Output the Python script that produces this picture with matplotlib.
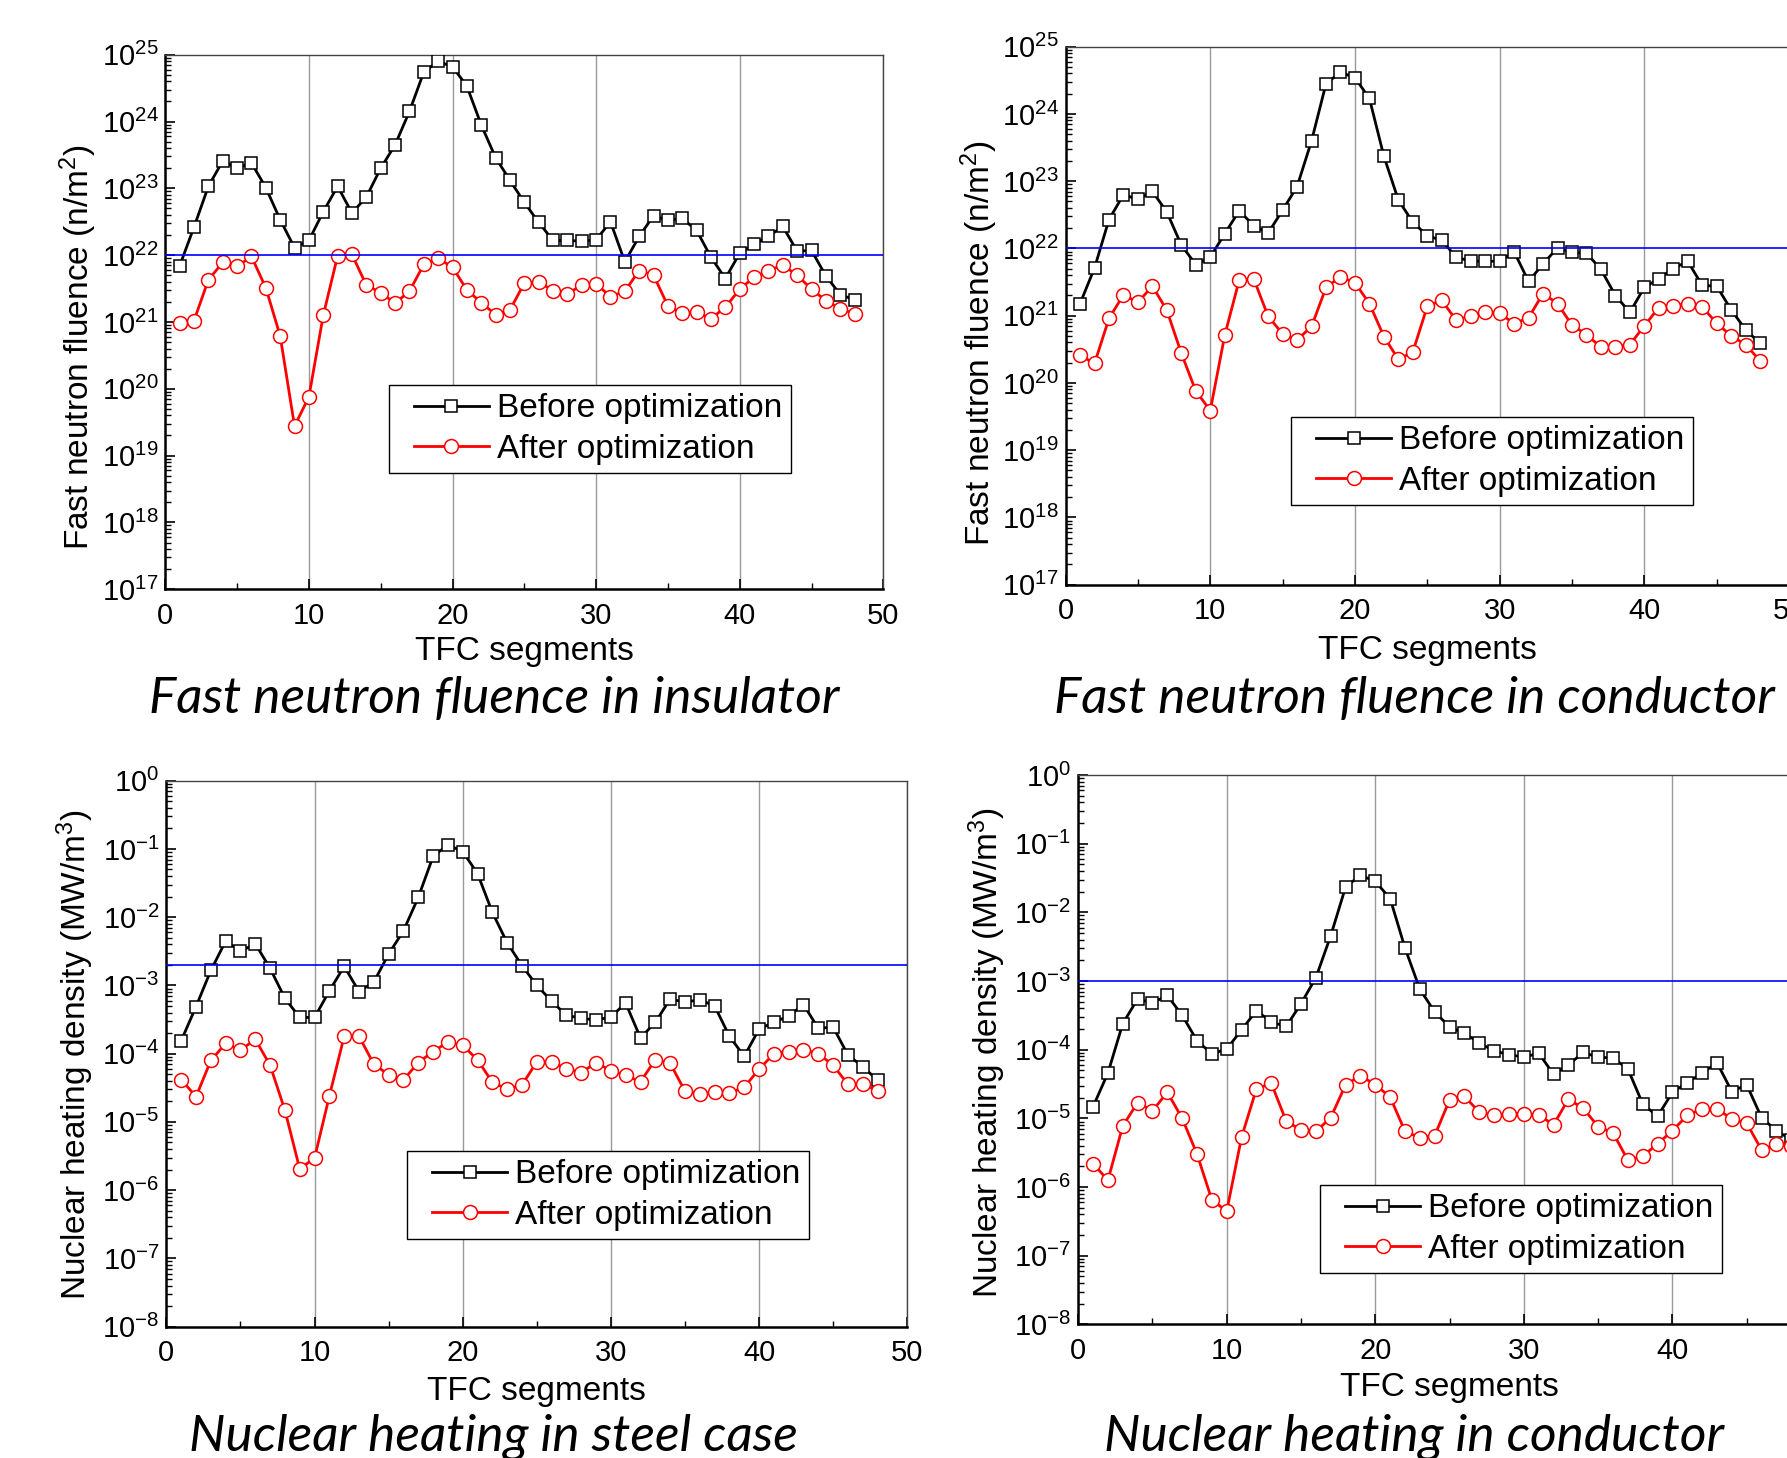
import numpy as np
import matplotlib
matplotlib.use("Agg")
import matplotlib.pyplot as plt
from matplotlib.ticker import LogLocator, FuncFormatter, MultipleLocator, NullFormatter
from matplotlib.legend_handler import HandlerLine2D

plt.rcParams["font.family"] = "Liberation Sans"
plt.rcParams["mathtext.fontset"] = "custom"
plt.rcParams["mathtext.rm"] = "Liberation Sans"
plt.rcParams["mathtext.it"] = "Liberation Sans:italic"
plt.rcParams["mathtext.bf"] = "Liberation Sans:bold"

# TFC segment index
segments = np.arange(1, 49)

# values, stored as log10(value)
insulator_before = [21.84, 22.42, 23.03, 23.41, 23.30, 23.38, 23.01, 22.53, 22.11, 22.22,
                    22.65, 23.03, 22.63, 22.87, 23.30, 23.65, 24.15, 24.74, 24.90, 24.82,
                    24.53, 23.95, 23.46, 23.12, 22.79, 22.49, 22.22, 22.22, 22.21, 22.23,
                    22.50, 21.90, 22.28, 22.59, 22.52, 22.55, 22.37, 21.97, 21.65, 22.03,
                    22.16, 22.28, 22.43, 22.06, 22.07, 21.69, 21.41, 21.33]
insulator_after = [20.99, 21.02, 21.63, 21.89, 21.83, 21.98, 21.51, 20.79, 19.44, 19.88,
                   21.10, 21.99, 22.01, 21.55, 21.44, 21.28, 21.46, 21.86, 21.95, 21.82,
                   21.48, 21.29, 21.11, 21.18, 21.58, 21.60, 21.47, 21.42, 21.55, 21.57,
                   21.38, 21.46, 21.77, 21.70, 21.24, 21.13, 21.15, 21.05, 21.22, 21.49,
                   21.67, 21.77, 21.85, 21.70, 21.49, 21.32, 21.20, 21.12]

conductor_fl_before = [21.18, 21.71, 22.43, 22.80, 22.73, 22.85, 22.54, 22.05, 21.76, 21.87,
                       22.22, 22.56, 22.34, 22.23, 22.57, 22.92, 23.60, 24.45, 24.62, 24.54,
                       24.23, 23.37, 22.72, 22.39, 22.19, 22.12, 21.87, 21.81, 21.81, 21.81,
                       21.95, 21.51, 21.77, 22.01, 21.94, 21.93, 21.69, 21.30, 21.05, 21.42,
                       21.55, 21.70, 21.81, 21.45, 21.44, 21.09, 20.79, 20.59]
conductor_fl_after = [20.41, 20.29, 20.96, 21.31, 21.20, 21.44, 21.08, 20.44, 19.88, 19.59,
                      20.71, 21.53, 21.55, 20.99, 20.73, 20.64, 20.84, 21.42, 21.58, 21.49,
                      21.18, 20.69, 20.35, 20.46, 21.14, 21.23, 20.93, 21.00, 21.06, 21.04,
                      20.88, 20.97, 21.33, 21.18, 20.86, 20.72, 20.53, 20.54, 20.57, 20.85,
                      21.12, 21.15, 21.18, 21.13, 20.89, 20.70, 20.57, 20.33]

case_heat_before = [-3.81, -3.31, -2.78, -2.35, -2.50, -2.39, -2.75, -3.19, -3.47, -3.47,
                    -3.08, -2.72, -3.09, -2.95, -2.54, -2.20, -1.71, -1.11, -0.94, -1.04,
                    -1.36, -1.93, -2.375, -2.71, -3.00, -3.23, -3.44, -3.48, -3.51, -3.46,
                    -3.26, -3.77, -3.54, -3.20, -3.245, -3.21, -3.30, -3.745, -4.04, -3.64,
                    -3.54, -3.45, -3.28, -3.63, -3.61, -4.02, -4.19, -4.39]
case_heat_after = [-4.38, -4.63, -4.10, -3.85, -3.95, -3.79, -4.17, -4.83, -5.69, -5.53,
                   -4.62, -3.745, -3.745, -4.155, -4.31, -4.385, -4.13, -3.97, -3.83, -3.88,
                   -4.09, -4.42, -4.52, -4.46, -4.12, -4.12, -4.22, -4.28, -4.13, -4.25,
                   -4.32, -4.41, -4.09, -4.14, -4.55, -4.59, -4.565, -4.58, -4.49, -4.23,
                   -4.00, -3.97, -3.94, -4.00, -4.17, -4.45, -4.44, -4.55]

cond_heat_before = [-4.83, -4.34, -3.62, -3.26, -3.32, -3.21, -3.50, -3.87, -4.06, -3.99,
                    -3.71, -3.43, -3.60, -3.66, -3.33, -2.95, -2.34, -1.63, -1.46, -1.55,
                    -1.80, -2.52, -3.12, -3.45, -3.67, -3.76, -3.90, -4.02, -4.07, -4.11,
                    -4.05, -4.36, -4.22, -4.04, -4.11, -4.12, -4.28, -4.79, -4.97, -4.62,
                    -4.48, -4.34, -4.19, -4.61, -4.51, -4.99, -5.18, -5.31]
cond_heat_after = [-5.66, -5.90, -5.11, -4.77, -4.89, -4.62, -5.00, -5.52, -6.19, -6.35,
                   -5.27, -4.57, -4.49, -5.04, -5.17, -5.19, -4.99, -4.51, -4.38, -4.51,
                   -4.69, -5.19, -5.28, -5.25, -4.73, -4.68, -4.91, -4.955, -4.93, -4.93,
                   -4.955, -5.09, -4.72, -4.855, -5.12, -5.21, -5.61, -5.55, -5.37, -5.18,
                   -4.955, -4.86, -4.86, -5.01, -5.07, -5.46, -5.37, -5.40]

# design limits (blue lines)
limits = [1e22, 1e22, 2e-3, 1e-3]

titles = ["Fast neutron fluence in insulator", "Fast neutron fluence in conductor",
          "Nuclear heating in steel case", "Nuclear heating in conductor"]
ylabels = ["Fast neutron fluence (n/m$^2$)", "Fast neutron fluence (n/m$^2$)",
           "Nuclear heating density (MW/m$^3$)", "Nuclear heating density (MW/m$^3$)"]

W, H = 1787, 1458
fig = plt.figure(figsize=(W / 100, H / 100), dpi=100)


def rect(l, t, r, b):
    return [l / W, 1 - b / H, (r - l) / W, (b - t) / H]


layout = [
    # axes box, ylim, ylabel xy, xlabel y, legend corner, title xy
    (rect(165.3, 54.7, 883.3, 589.2), (1e17, 1e25), (-0.092, 0.453), -0.087, (388.6, 385), (494, 713)),
    (rect(1065.6, 46.7, 1789, 584.7), (1e17, 1e25), (-0.091, 0.449), -0.094, (1291, 417), (1414, 713)),
    (rect(166.4, 780.7, 907.2, 1326.6), (1e-8, 1e0), (-0.095, 0.499), -0.090, (407, 1151), (493, 1451)),
    (rect(1078.2, 775, 1821, 1324.4), (1e-8, 1e0), (-0.094, 0.494), -0.087, (1320, 1185), (1414, 1451)),
]
series = [(insulator_before, insulator_after), (conductor_fl_before, conductor_fl_after),
          (case_heat_before, case_heat_after), (cond_heat_before, cond_heat_after)]

for i, (box, ylim, ylab_xy, xlab_y, leg_xy, title_xy) in enumerate(layout):
    ax = fig.add_axes(box)
    before, after = series[i]
    ax.plot(segments, 10 ** np.array(before), "-s", color="black", lw=2.0, ms=9,
            mfc="white", mec="black", mew=1.1, label="Before optimization", zorder=3)
    ax.plot(segments, 10 ** np.array(after), "-o", color="red", lw=2.0, ms=10,
            mfc="white", mec="red", mew=1.1, label="After optimization", zorder=3)
    ax.axhline(limits[i], color="blue", lw=1.2, zorder=4)

    ax.set_yscale("log")
    ax.set_ylim(*ylim)
    ax.set_xlim(0, 50)
    ax.yaxis.set_major_locator(LogLocator(base=10, numticks=20))
    ax.yaxis.set_minor_locator(LogLocator(base=10, subs=np.arange(2, 10), numticks=20))
    ax.yaxis.set_minor_formatter(NullFormatter())
    ax.yaxis.set_major_formatter(FuncFormatter(lambda v, p: r"$\mathrm{10^{%d}}$" % int(round(np.log10(v)))))
    ax.xaxis.set_major_locator(MultipleLocator(10))
    ax.xaxis.set_minor_locator(MultipleLocator(5))

    ax.tick_params(which="both", direction="in", top=False, right=False)
    ax.tick_params(which="major", length=7, width=1.2, labelsize=21)
    ax.tick_params(which="minor", length=4, width=1.0)
    ax.tick_params(axis="y", which="major", pad=5)
    ax.tick_params(axis="x", which="major", pad=9)
    ax.xaxis.grid(True, which="major", color="#999999", lw=1.0, zorder=0)
    ax.set_axisbelow(True)

    for s in ["left", "bottom"]:
        ax.spines[s].set_linewidth(1.8)
        ax.spines[s].set_color("black")
    for s in ["top", "right"]:
        ax.spines[s].set_linewidth(1.0)
        ax.spines[s].set_color("#444444")

    ax.set_xlabel("TFC segments", fontsize=24)
    ax.xaxis.set_label_coords(0.5, xlab_y)
    ax.set_ylabel(ylabels[i], fontsize=24)
    ax.yaxis.set_label_coords(*ylab_xy)

    leg = ax.legend(loc="upper left", bbox_to_anchor=(leg_xy[0] / W, 1 - leg_xy[1] / H),
                    bbox_transform=fig.transFigure, fontsize=24, frameon=True, fancybox=False,
                    edgecolor="black", framealpha=1, borderaxespad=0, handlelength=2.75,
                    handletextpad=0.25, labelspacing=0.28, borderpad=0.25,
                    handler_map={plt.Line2D: HandlerLine2D(xpad=0.5)})
    leg.get_frame().set_linewidth(1.0)

    fig.text(title_xy[0] / W, 1 - title_xy[1] / H, titles[i], fontfamily="Lato",
             fontstyle="italic", fontsize=37, ha="center", va="baseline")

fig.savefig("out.png", dpi=100)
